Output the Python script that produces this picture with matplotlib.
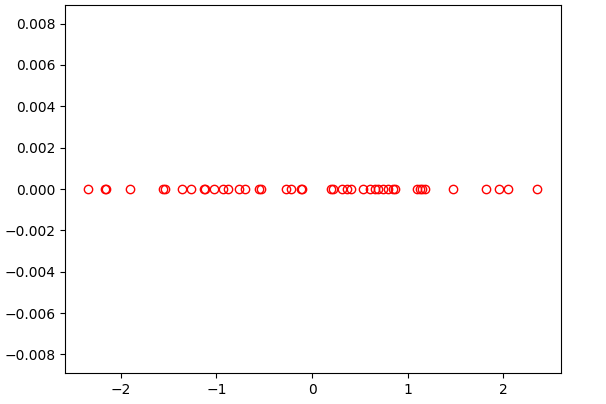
import numpy as np
import matplotlib
matplotlib.use('Agg')
import matplotlib.pyplot as plt

# values, all sitting on y = 0
x_vals = [-2.345, -2.17, -2.16, -1.906, -1.555, -1.54, -1.36, -1.267,
          -1.13, -1.12, -1.026, -0.93, -0.88, -0.764, -0.70, -0.55, -0.53,
          -0.27, -0.22, -0.12, -0.11, 0.20, 0.22, 0.314, 0.366, 0.41,
          0.534, 0.607, 0.66, 0.69, 0.743, 0.796, 0.848, 0.87,
          1.10, 1.13, 1.15, 1.18, 1.476, 1.82, 1.958, 2.05, 2.356]
y_vals = np.zeros(len(x_vals))

fig, ax = plt.subplots(figsize=(6.06, 4.04), dpi=100)
fig.subplots_adjust(left=0.1073, right=0.9257, top=0.9876, bottom=0.0767)

ax.plot(x_vals, y_vals, 'o', markerfacecolor='none', markeredgecolor='red')
ax.set_xlim(-2.585, 2.605)
ax.set_ylim(-0.0089, 0.0089)

fig.savefig('out.png', dpi=100)
